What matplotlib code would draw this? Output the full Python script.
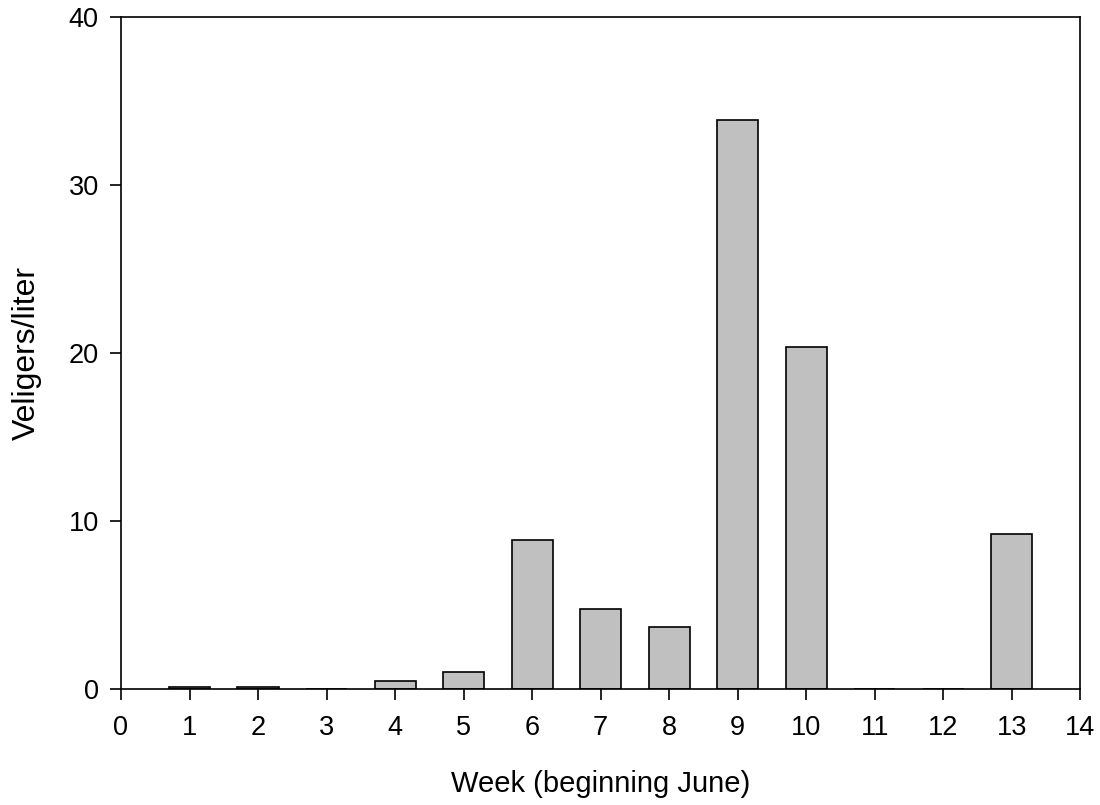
import matplotlib
matplotlib.use("Agg")
from matplotlib import pyplot as plt

plt.rcParams['font.family'] = ['Liberation Sans', 'DejaVu Sans']

weeks = [1, 2, 3, 4, 5, 6, 7, 8, 9, 10, 11, 12, 13]
veligers = [0.12, 0.1, 0.0, 0.48, 1.02, 8.85, 4.76, 3.7, 33.88, 20.37, 0.0, 0.0, 9.23]

fig = plt.figure(figsize=(11, 8.05), dpi=100)
ax = fig.add_axes([0.11, 0.144, 0.872, 0.835])

ax.bar(weeks, veligers, width=0.6, color='#c0c0c0', edgecolor='black', linewidth=1.2)

ax.set_xlim(0, 14)
ax.set_ylim(0, 40)
ax.set_xticks(range(0, 15))
ax.set_yticks([0, 10, 20, 30, 40])
ax.tick_params(direction='out', length=8, width=1.2, labelsize=19.5)
ax.tick_params(axis='x', pad=11)
ax.tick_params(axis='y', pad=8)
for s in ax.spines.values():
    s.set_linewidth(1.2)

ax.set_xlabel('Week (beginning June)', fontsize=21)
ax.set_ylabel('Veligers/liter', fontsize=23)
ax.xaxis.set_label_coords(0.5, -0.12)
ax.yaxis.set_label_coords(-0.083, 0.5)

fig.savefig('out.png', dpi=100)
